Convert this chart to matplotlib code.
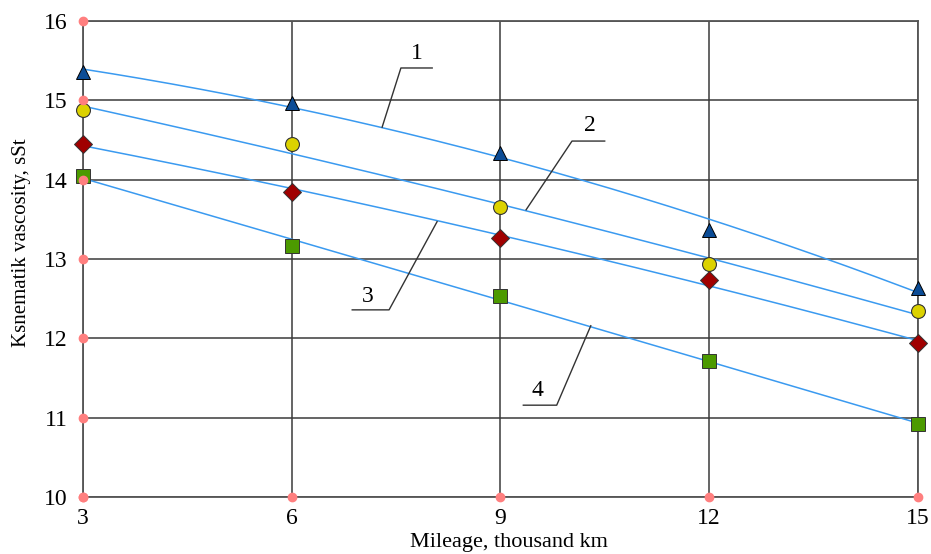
import matplotlib
matplotlib.use("Agg")
import matplotlib.pyplot as plt
import numpy as np

# mileage, thousand km
mileage = [3, 6, 9, 12, 15]

# kinematic viscosity for the four samples
visc_1 = [15.35, 14.97, 14.34, 13.36, 12.64]
visc_2 = [14.87, 14.45, 13.65, 12.94, 12.34]
visc_3 = [14.45, 13.85, 13.27, 12.74, 11.94]
visc_4 = [14.05, 13.16, 12.54, 11.72, 10.92]

curve_labels = ["1", "2", "3", "4"]
y_ticks = [10, 11, 12, 13, 14, 15, 16]

plt.rcParams['font.family'] = ['Liberation Serif', 'DejaVu Serif']

fig = plt.figure(figsize=(9.31, 5.54), dpi=100)
ax = fig.add_axes([0.0892, 0.1023, 0.8965, 0.8603])

ax.set_xlim(3, 15)
ax.set_ylim(10, 16)
ax.set_xticks(mileage)
ax.set_yticks(y_ticks)

# grid and frame
ax.grid(True, color="#3a3a3a", linewidth=1.1, zorder=1)
for s in ax.spines.values():
    s.set_color("#555555")
    s.set_linewidth(1.3)
ax.tick_params(length=0, labelsize=17, colors="black")
ax.tick_params(axis="y", pad=11)
ax.tick_params(axis="x", pad=8)

# quadratic trend lines through each series
xs = np.linspace(3, 15, 200)
for ys in [visc_1, visc_2, visc_3, visc_4]:
    coef = np.polyfit(mileage, ys, 2)
    ax.plot(xs, np.polyval(coef, xs), color="#3a9af0", lw=1.1, zorder=3)

# measured points
ax.plot(mileage, visc_1, "^", ms=10, mfc="#0b4c96", mec="black", mew=0.7, ls="none", zorder=4, clip_on=False)
ax.plot(mileage, visc_2, "o", ms=10, mfc="#dcd200", mec="#333333", mew=0.8, ls="none", zorder=4, clip_on=False)
ax.plot(mileage, visc_3, "D", ms=9, mfc="#a00000", mec="#333333", mew=0.7, ls="none", zorder=4, clip_on=False)
ax.plot(mileage, visc_4, "s", ms=10, mfc="#4c9a00", mec="#333333", mew=0.7, ls="none", zorder=4, clip_on=False)

# pink dots at axis tick positions
ax.plot([3] * len(y_ticks), y_ticks, "o", ms=6, color="#ff7f7f", ls="none", zorder=5, clip_on=False)
ax.plot(mileage, [10] * len(mileage), "o", ms=6, color="#ff7f7f", ls="none", zorder=5, clip_on=False)

# curve number callouts: (text pos, shelf start, shelf end, leader tip)
callouts = [
    ((7.80, 15.59), (8.02, 15.405), (7.57, 15.405), (7.30, 14.66)),
    ((10.29, 14.68), (10.50, 14.485), (10.03, 14.485), (9.37, 13.62)),
    ((7.10, 12.53), (6.87, 12.36), (7.40, 12.36), (8.09, 13.47)),
    ((9.54, 11.35), (9.33, 11.16), (9.81, 11.16), (10.30, 12.16)),
]
for lab, (tpos, a, b, tip) in zip(curve_labels, callouts):
    ax.plot([a[0], b[0], tip[0]], [a[1], b[1], tip[1]], color="#333333", lw=1.0, zorder=3)
    ax.text(tpos[0], tpos[1], lab, fontsize=17, ha="center", va="center", zorder=6)

ax.set_xlabel("Mileage, thousand km", fontsize=16, labelpad=0)
ax.xaxis.set_label_coords(0.51, -0.074, transform=ax.transAxes)
ax.xaxis.label.set_va("top")
ax.set_ylabel("Ksnematik vascosity, sSt", fontsize=15)
ax.yaxis.set_label_coords(-0.062, 0.534)

fig.savefig("out.png", dpi=100)
